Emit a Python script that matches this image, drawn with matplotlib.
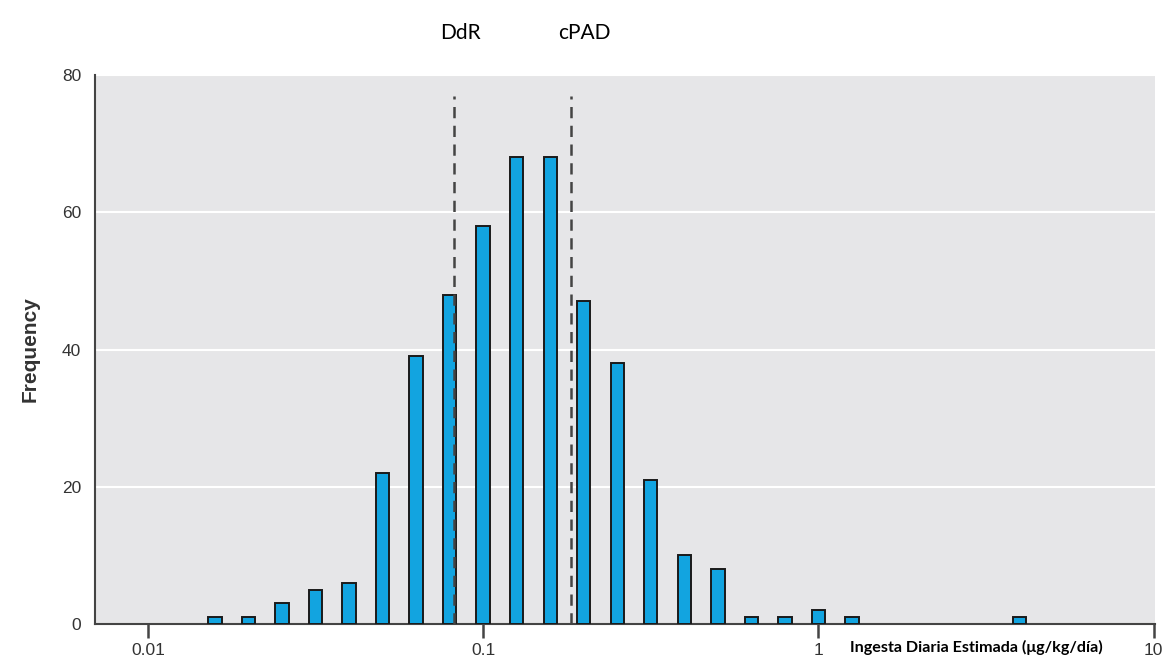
import numpy as np
import matplotlib
matplotlib.use("Agg")
import matplotlib.pyplot as plt
from matplotlib.ticker import FixedLocator, NullLocator, FixedFormatter

# bin centres (log10 of intake) and counts
bin_log = [-1.8, -1.7, -1.6, -1.5, -1.4, -1.3, -1.2, -1.1, -1.0, -0.9, -0.8,
           -0.7, -0.6, -0.5, -0.4, -0.3, -0.2, -0.1, 0.0, 0.1, 0.6]
counts = [1, 1, 3, 5, 6, 22, 39, 48, 58, 68, 68,
          47, 38, 21, 10, 8, 1, 1, 2, 1, 1]

ref_values = [0.082, 0.183]
ref_labels = ["DdR", "cPAD"]

xticks = [0.01, 0.1, 1, 10]
xtick_labels = ["0.01", "0.1", "1", "10"]
yticks = [0, 20, 40, 60, 80]

narrow = ["Liberation Sans Narrow", "Liberation Sans", "DejaVu Sans"]

fig = plt.figure(figsize=(11.64, 6.6), dpi=100)
ax = fig.add_axes([0.0816, 0.0545, 0.9107, 0.8318])
ax.set_facecolor("#e6e6e8")

ax.set_xscale("log")
centres = 10 ** np.array(bin_log)
half = 0.02  # half bar width in decades
left = centres * 10 ** (-half)
widths = centres * (10 ** half - 10 ** (-half))
ax.bar(left, counts, width=widths, align="edge", color="#12a4e0",
       edgecolor="#1a1a1a", linewidth=1.4, zorder=3)

for v in ref_values:
    ax.vlines(v, 0, 77, colors="#444444", linestyles=(0, (4.5, 3)),
              linewidth=1.8, zorder=4)

ax.set_xlim(0.00695, 10.1)
ax.set_ylim(0, 80)

ax.xaxis.set_major_locator(FixedLocator(xticks))
ax.xaxis.set_major_formatter(FixedFormatter(xtick_labels))
ax.xaxis.set_minor_locator(NullLocator())
ax.set_yticks(yticks)
ax.yaxis.grid(True, color="white", linewidth=1.5, zorder=0)
ax.set_axisbelow(True)

ax.tick_params(axis="x", length=10, width=1.8, color="#444444", pad=4)
ax.tick_params(axis="y", length=0, pad=10)
for lab in ax.get_xticklabels() + ax.get_yticklabels():
    lab.set_family(narrow)
    lab.set_fontsize(12.5)
    lab.set_color("#333333")

for s in ["top", "right"]:
    ax.spines[s].set_visible(False)
for s in ["left", "bottom"]:
    ax.spines[s].set_color("#444444")
    ax.spines[s].set_linewidth(1.5)

ax.set_ylabel("Frequency", family=narrow, fontsize=15, fontweight="bold",
              color="#333333", labelpad=16)

ax.text(0.831, -0.042, "Ingesta Diaria Estimada (\u03bcg/kg/d\u00eda)",
        transform=ax.transAxes, ha="center", va="center",
        fontsize=11.6, fontweight="bold", family=["Lato", "DejaVu Sans"])

for v, t in zip(ref_values, ref_labels):
    fig.text(ax.transData.transform((v, 0))[0] / fig.bbox.width + (0.005 if t == "DdR" else 0.011),
             0.95, t, ha="center", va="center", fontsize=15,
             family=["Lato", "DejaVu Sans"])

fig.savefig("out.png", dpi=100)
